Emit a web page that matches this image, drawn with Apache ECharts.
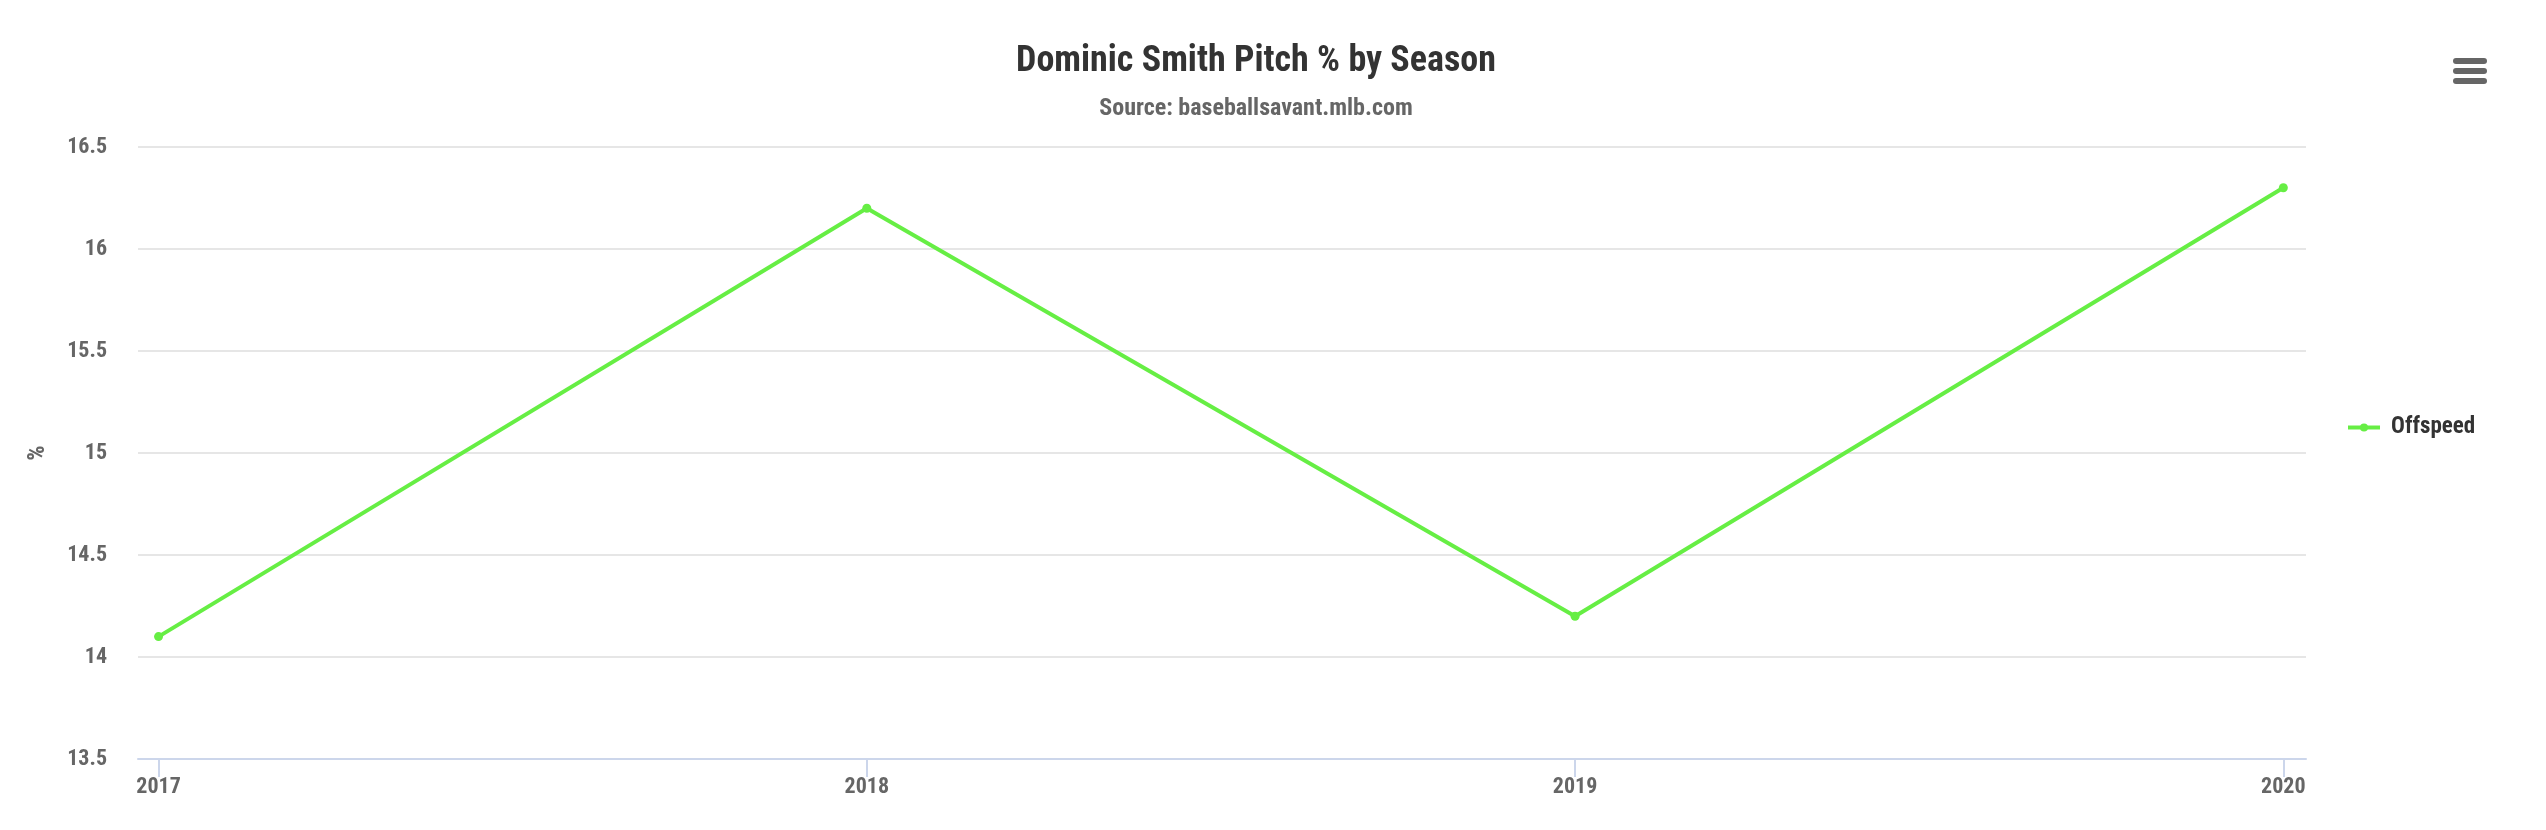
<!DOCTYPE html>
<html>
<head>
<meta charset="utf-8">
<title>Dominic Smith Pitch % by Season</title>
<script src="https://cdn.jsdelivr.net/npm/echarts@6/dist/echarts.min.js"></script>
<style>
    html, body { margin: 0; padding: 0; background: #fff; }
    #main { width: 2546px; height: 830px; }
</style>
</head>
<body>
<div id="main"></div>
<script>
// data
const seasons = [2017, 2018, 2019, 2020];
const offspeed = [14.1, 16.2, 14.2, 16.3];
const seriesName = 'Offspeed';

const font = '"Roboto Condensed", "Liberation Sans Narrow", Roboto, sans-serif';
const lineColor = '#66ee44';

var myChart = echarts.init(document.getElementById('main'));
var option = {
    backgroundColor: '#fff',
    animation: false,
    title: {
        text: 'Dominic Smith Pitch % by Season',
        subtext: 'Source: baseballsavant.mlb.com',
        left: 1256,
        textAlign: 'center',
        top: 44,
        padding: 0,
        itemGap: 17,
        textStyle: {
            fontFamily: font,
            fontSize: 36,
            fontWeight: 'bold',
            color: '#333'
        },
        subtextStyle: {
            fontFamily: font,
            fontSize: 24,
            fontWeight: 'bold',
            color: '#666'
        }
    },
    legend: {
        orient: 'vertical',
        left: 2346,
        top: 416,
        padding: 0,
        itemWidth: 32,
        itemHeight: 10,
        data: [seriesName],
        lineStyle: { width: 4 },
        textStyle: {
            fontFamily: font,
            fontSize: 23,
            fontWeight: 'bold',
            color: '#333',
            padding: [0, 0, 0, 6]
        }
    },
    grid: {
        left: 138,
        right: 240,
        top: 147,
        bottom: 71
    },
    xAxis: {
        type: 'value',
        min: 2016.971,
        max: 2020.032,
        splitLine: { show: false },
        axisLine: { show: true, lineStyle: { color: '#ccd6eb', width: 2 } },
        axisTick: {
            show: true,
            length: 18,
            customValues: seasons,
            lineStyle: { color: '#ccd6eb', width: 2 }
        },
        axisLabel: {
            customValues: seasons,
            margin: 17,
            fontFamily: font,
            fontSize: 22,
            fontWeight: 'bold',
            color: '#666',
            formatter: function (v) { return String(v); }
        }
    },
    yAxis: {
        type: 'value',
        min: 13.5,
        max: 16.5,
        interval: 0.5,
        name: '%',
        nameLocation: 'middle',
        nameRotate: 90,
        nameGap: 88,
        nameTextStyle: {
            fontFamily: font,
            fontSize: 24,
            fontWeight: 'bold',
            color: '#666'
        },
        axisLine: { show: false },
        axisTick: { show: false },
        splitLine: { lineStyle: { color: '#e6e6e6', width: 2 } },
        axisLabel: {
            margin: 31,
            fontFamily: font,
            fontSize: 22,
            fontWeight: 'bold',
            color: '#666'
        }
    },
    graphic: [
        // export menu icon, top right
        { type: 'rect', left: 2453, top: 58, shape: { width: 34, height: 6, r: 3 }, style: { fill: '#666' } },
        { type: 'rect', left: 2453, top: 68, shape: { width: 34, height: 6, r: 3 }, style: { fill: '#666' } },
        { type: 'rect', left: 2453, top: 78, shape: { width: 34, height: 6, r: 3 }, style: { fill: '#666' } }
    ],
    series: [
        {
            name: seriesName,
            type: 'line',
            symbol: 'circle',
            symbolSize: 9,
            color: lineColor,
            lineStyle: { width: 4, color: lineColor },
            itemStyle: { color: lineColor },
            data: seasons.map(function (s, i) { return [s, offspeed[i]]; })
        }
    ]
};
myChart.setOption(option);
window.onresize = myChart.resize;
</script>
</body>
</html>
